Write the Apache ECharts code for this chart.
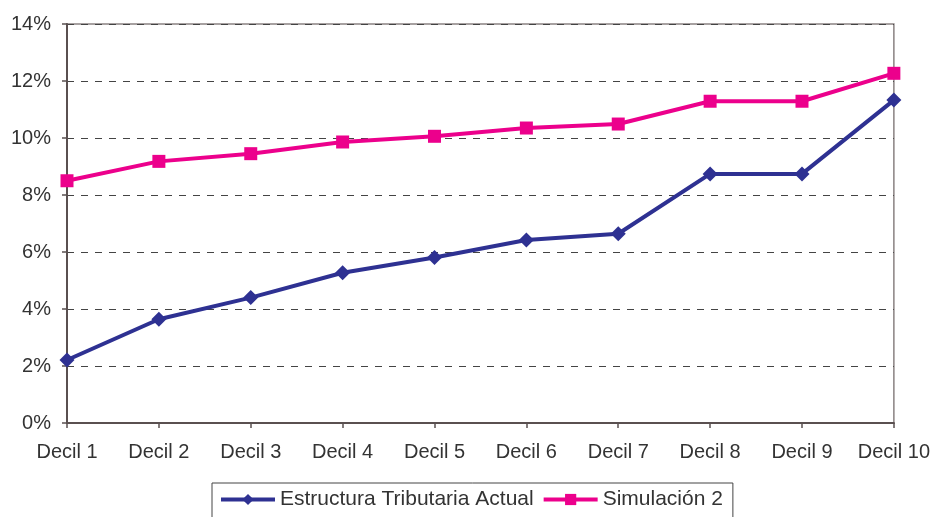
<!DOCTYPE html>
<html><head><meta charset="utf-8">
<script src="https://cdn.jsdelivr.net/npm/echarts@6/dist/echarts.min.js"></script>
<style>html,body{margin:0;padding:0;background:#fff}#c{width:933px;height:517px}</style>
</head><body><div id="c"></div>
<script>
const categories = ['Decil 1','Decil 2','Decil 3','Decil 4','Decil 5','Decil 6','Decil 7','Decil 8','Decil 9','Decil 10'];
const actual = [2.21, 3.64, 4.40, 5.27, 5.81, 6.42, 6.64, 8.74, 8.74, 11.33];
const simulacion = [8.50, 9.18, 9.45, 9.86, 10.06, 10.35, 10.49, 11.29, 11.29, 12.27];
const yTicks = [0, 2, 4, 6, 8, 10, 12, 14];
const seriesNames = ['Estructura Tributaria Actual', 'Simulación 2'];

const chart = echarts.init(document.getElementById('c'));
const font = 'Liberation Sans, Arial, sans-serif';
chart.setOption({
  animation: false,
  grid: { left: 67, right: 39, top: 24, bottom: 94, show: true, borderColor: '#8a8282', borderWidth: 1.5 },
  xAxis: {
    type: 'category', data: categories, boundaryGap: false,
    axisLine: { lineStyle: { color: '#5a5050', width: 2 } },
    axisTick: { show: true, length: 5, alignWithLabel: true, lineStyle: { color: '#5a5050', width: 1.5 } },
    axisLabel: { color: '#333', fontFamily: font, fontSize: 20, margin: 19, interval: 0 },
    splitLine: { show: false }
  },
  yAxis: {
    type: 'value', min: yTicks[0], max: yTicks[yTicks.length - 1], interval: 2,
    axisLine: { show: true, lineStyle: { color: '#5a5050', width: 2 } },
    axisTick: { show: true, length: 5, lineStyle: { color: '#5a5050', width: 1.5 } },
    axisLabel: { color: '#333', fontFamily: font, fontSize: 20, margin: 16, formatter: v => v + '%' },
    splitLine: { show: true, lineStyle: { color: '#444', type: [7, 7], width: 1 } }
  },
  legend: {
    data: seriesNames, left: 212, top: 483,
    borderColor: '#444', borderWidth: 1, padding: [6, 10, 12, 7],
    itemWidth: 54, itemHeight: 14, itemGap: 8,
    lineStyle: { width: 4 },
    textStyle: { color: '#333', fontFamily: font, fontSize: 21 }
  },
  series: [
    { name: seriesNames[0], type: 'line', data: actual, color: '#2e3192',
      symbol: 'diamond', symbolSize: 15, lineStyle: { width: 4 } },
    { name: seriesNames[1], type: 'line', data: simulacion, color: '#ec008c',
      symbol: 'rect', symbolSize: 13, lineStyle: { width: 4 } }
  ]
});
</script></body></html>
